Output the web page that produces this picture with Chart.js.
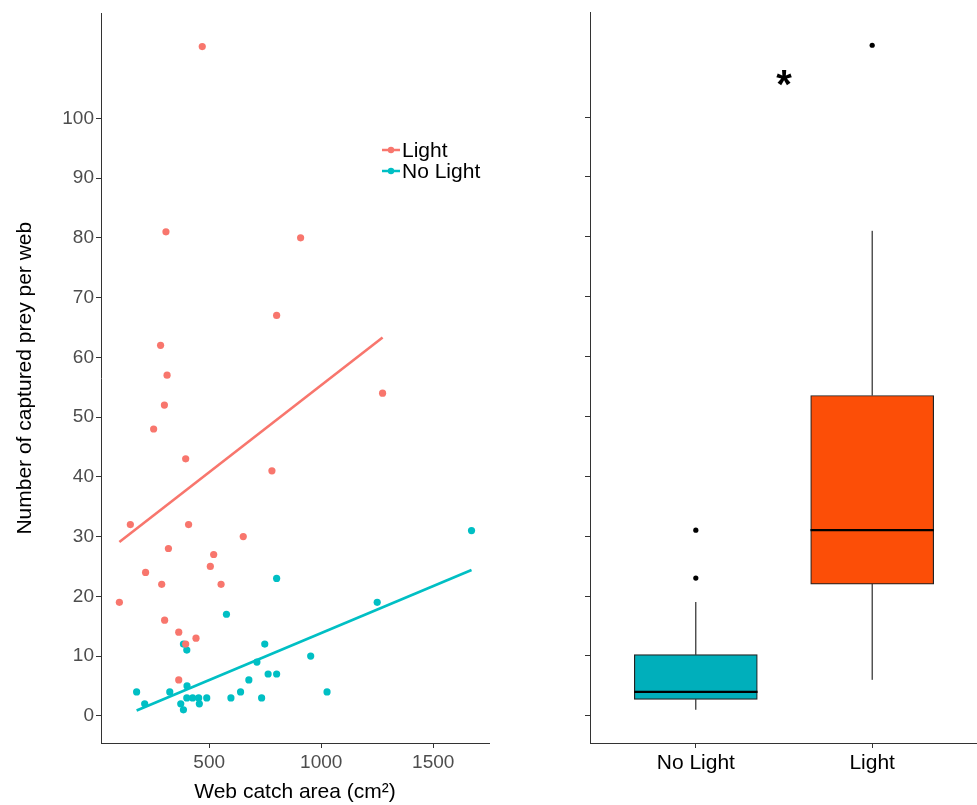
<!DOCTYPE html>
<html>
<head>
<meta charset="utf-8">
<script src="https://cdn.jsdelivr.net/npm/chart.js@4.4.1/dist/chart.umd.min.js"></script>
<style>
    html, body { margin: 0; padding: 0; background: #fff; }
    #wrap { position: relative; width: 977px; height: 805px; overflow: hidden; }
    #scatterChart { position: absolute; left: 0; top: 0; }
    #boxChart { position: absolute; left: 500px; top: 0; }
</style>
</head>
<body>
<div id="wrap">
    <canvas id="scatterChart" width="500" height="805"></canvas>
    <canvas id="boxChart" width="482" height="805"></canvas>
</div>
<script>
// --- left panel: prey vs web area ---
const seriesNames = ['Light', 'No Light'];
const seriesColors = ['#F8766D', '#00BFC4'];

const lightArea = [469, 307, 908, 801, 283, 312, 300, 252, 395, 1274, 780, 148, 408, 652, 318, 99, 216, 288, 520, 505, 553, 301, 364, 441, 395, 364];
const lightPrey = [112, 81, 80, 67, 62, 57, 52, 48, 43, 54, 41, 32, 32, 30, 28, 19, 24, 22, 27, 25, 22, 16, 14, 13, 12, 6];
const noLightArea = [1671, 801, 1250, 577, 385, 400, 748, 953, 713, 677, 763, 801, 176, 324, 640, 1026, 212, 401, 400, 426, 453, 489, 597, 734, 373, 456, 385];
const noLightPrey = [31, 23, 19, 17, 12, 11, 12, 10, 9, 6, 7, 7, 4, 4, 4, 4, 2, 5, 3, 3, 3, 3, 3, 3, 2, 2, 1];

// fitted lines (end points)
const lightFitArea = [99, 1274];
const lightFitPrey = [29.1, 63.3];
const noLightFitArea = [176, 1671];
const noLightFitPrey = [0.9, 24.4];

const yTicks = [0, 10, 20, 30, 40, 50, 60, 70, 80, 90, 100];
const xTicks = [500, 1000, 1500];

// --- right panel: box plot ---
const groups = ['No Light', 'Light'];
const boxColors = ['#00AFBB', '#FC4E07'];
const boxQ1 = [2.75, 22];
const boxMedian = [4, 31];
const boxQ3 = [10.2, 53.5];
const whiskerLow = [1, 6];
const whiskerHigh = [19, 81];
const outliers = [[23, 31], [112]];

const FONT = "'Liberation Sans', Arial, sans-serif";
Chart.defaults.font.family = FONT;
Chart.defaults.animation = false;

const toPoints = (xs, ys) => xs.map((x, i) => ({ x: x, y: ys[i] }));

const fixedTicks = (values) => (scale) => {
    scale.ticks = values.map(v => ({ value: v }));
};

const makeGrid = () => ({
    display: true, offset: false, drawOnChartArea: false, drawTicks: true,
    tickLength: 5, color: '#333', tickColor: '#333', tickWidth: 1, lineWidth: 1
});
const makeBorder = () => ({ display: true, color: '#333', width: 1 });

// legend drawn inside the plot
const legendInPlot = {
    id: 'legendInPlot',
    afterDraw(chart) {
        const ctx = chart.ctx;
        ctx.save();
        seriesNames.forEach((name, i) => {
            const y = 150 + i * 21;
            ctx.strokeStyle = seriesColors[i];
            ctx.lineWidth = 2.5;
            ctx.beginPath();
            ctx.moveTo(382, y);
            ctx.lineTo(400, y);
            ctx.stroke();
            ctx.fillStyle = seriesColors[i];
            ctx.beginPath();
            ctx.arc(391, y, 3.2, 0, Math.PI * 2);
            ctx.fill();
            ctx.fillStyle = '#000';
            ctx.font = '21px ' + FONT;
            ctx.textBaseline = 'middle';
            ctx.fillText(name, 402, y + 1);
        });
        ctx.restore();
    }
};

new Chart(document.getElementById('scatterChart'), {
    type: 'scatter',
    data: {
        datasets: [
            {
                label: seriesNames[0], data: toPoints(lightArea, lightPrey),
                backgroundColor: seriesColors[0], borderWidth: 0, pointRadius: 3.6, order: 1
            },
            {
                label: seriesNames[1], data: toPoints(noLightArea, noLightPrey),
                backgroundColor: seriesColors[1], borderWidth: 0, pointRadius: 3.6, order: 1
            },
            {
                label: 'fit light', data: toPoints(lightFitArea, lightFitPrey), showLine: true,
                borderColor: seriesColors[0], borderWidth: 2.6, pointRadius: 0, order: 0
            },
            {
                label: 'fit no light', data: toPoints(noLightFitArea, noLightFitPrey), showLine: true,
                borderColor: seriesColors[1], borderWidth: 2.6, pointRadius: 0, order: 0
            }
        ]
    },
    options: {
        responsive: false,
        layout: { padding: { top: 12, right: 11, bottom: 0, left: 0 } },
        plugins: { legend: { display: false }, tooltip: { enabled: false } },
        scales: {
            x: {
                grid: makeGrid(), border: makeBorder(),
                type: 'linear', min: 17, max: 1749,
                afterBuildTicks: fixedTicks(xTicks),
                afterFit: (scale) => { scale.height = 62; scale.paddingLeft = 0; scale.paddingRight = 0; },
                ticks: { color: '#4D4D4D', font: { size: 19 }, padding: 3, maxRotation: 0, callback: (v) => String(v) },
                title: { display: true, text: 'Web catch area (cm²)', color: '#000', font: { size: 21 }, padding: { top: 2, bottom: 0 } }
            },
            y: {
                grid: makeGrid(), border: makeBorder(),
                type: 'linear', min: -4.55, max: 117.55,
                afterBuildTicks: fixedTicks(yTicks),
                afterFit: (scale) => { scale.width = 101; },
                ticks: { color: '#4D4D4D', font: { size: 19 }, padding: 2, callback: (v) => String(v) },
                title: { display: true, text: 'Number of captured prey per web', color: '#000', font: { size: 21 }, padding: { top: 13, bottom: 0 } }
            }
        }
    },
    plugins: [legendInPlot]
});

// significance mark over the boxes
const starMark = {
    id: 'starMark',
    afterDraw(chart) {
        const ctx = chart.ctx;
        ctx.save();
        ctx.fillStyle = '#000';
        ctx.font = 'bold 40px ' + FONT;
        ctx.textAlign = 'center';
        ctx.textBaseline = 'middle';
        ctx.fillText('*', chart.scales.x.getPixelForValue(1.5), chart.scales.y.getPixelForValue(105));
        ctx.restore();
    }
};

const halfBox = 0.35;
const boxDatasets = [{
    type: 'bar',
    label: 'box',
    data: groups.map((g, i) => ({ x: i + 1, y: [boxQ1[i], boxQ3[i]] })),
    backgroundColor: boxColors,
    borderColor: '#222',
    borderWidth: 1.2,
    borderSkipped: false,
    barThickness: 123,
    order: 3
}];
groups.forEach((g, i) => {
    boxDatasets.push({
        label: g + ' upper whisker', showLine: true, pointRadius: 0, borderColor: '#000', borderWidth: 1, order: 2,
        data: [{ x: i + 1, y: boxQ3[i] }, { x: i + 1, y: whiskerHigh[i] }]
    });
    boxDatasets.push({
        label: g + ' lower whisker', showLine: true, pointRadius: 0, borderColor: '#000', borderWidth: 1, order: 2,
        data: [{ x: i + 1, y: whiskerLow[i] }, { x: i + 1, y: boxQ1[i] }]
    });
    boxDatasets.push({
        label: g + ' median', showLine: true, pointRadius: 0, borderColor: '#000', borderWidth: 2.2, order: 1,
        data: [{ x: i + 1 - halfBox, y: boxMedian[i] }, { x: i + 1 + halfBox, y: boxMedian[i] }]
    });
    boxDatasets.push({
        label: g + ' outliers', pointRadius: 2.6, backgroundColor: '#000', borderWidth: 0, order: 0,
        data: outliers[i].map(v => ({ x: i + 1, y: v }))
    });
});

new Chart(document.getElementById('boxChart'), {
    type: 'scatter',
    data: { datasets: boxDatasets },
    options: {
        responsive: false,
        layout: { padding: { top: 12, right: 0, bottom: 0, left: 0 } },
        plugins: { legend: { display: false }, tooltip: { enabled: false } },
        scales: {
            x: {
                grid: makeGrid(), border: makeBorder(),
                type: 'linear', min: 0.4, max: 2.6, offset: false,
                afterBuildTicks: fixedTicks([1, 2]),
                afterFit: (scale) => { scale.height = 62; scale.paddingLeft = 0; scale.paddingRight = 0; },
                ticks: { color: '#000', font: { size: 21 }, padding: 3, maxRotation: 0, callback: (v) => groups[v - 1] }
            },
            y: {
                grid: makeGrid(), border: makeBorder(),
                type: 'linear', min: -4.55, max: 117.55,
                afterBuildTicks: fixedTicks(yTicks),
                afterFit: (scale) => { scale.width = 90; },
                ticks: { callback: () => '' }
            }
        }
    },
    plugins: [starMark]
});
</script>
</body>
</html>
